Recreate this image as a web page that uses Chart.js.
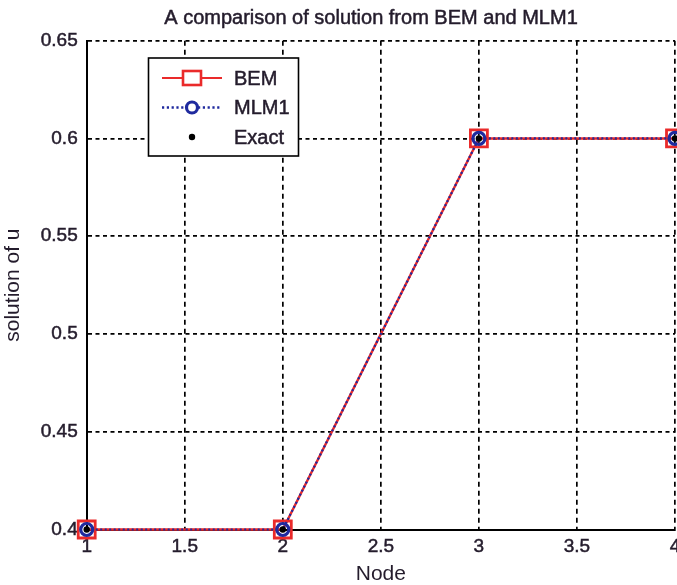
<!DOCTYPE html>
<html>
<head>
<meta charset="utf-8">
<script src="https://cdn.jsdelivr.net/npm/chart.js@4/dist/chart.umd.min.js"></script>
<style>
  html, body { margin: 0; padding: 0; overflow: hidden; background: #fff; }
  canvas { display: block; }
</style>
</head>
<body>
<canvas id="c" width="720" height="585"></canvas>
<script>
// Node positions and the solution values at each node
const nodes = [1, 2, 3, 4];
const bemValues = [0.4, 0.4, 0.6, 0.6];
const mlm1Values = [0.4, 0.4, 0.6, 0.6];
const exactValues = [0.4, 0.4, 0.6, 0.6];

// Axis ticks
const xTicks = [1, 1.5, 2, 2.5, 3, 3.5, 4];
const yTicks = [0.4, 0.45, 0.5, 0.55, 0.6, 0.65];

const seriesNames = ['BEM', 'MLM1', 'Exact'];
const chartTitle = 'A comparison of solution from BEM and MLM1';

const RED = '#ea2a2a';
const BLUE = '#1f2a9e';
const INK = '#241c2c';
const FONT = '"Liberation Sans", Arial, sans-serif';

const toPoints = vals => nodes.map((n, i) => ({ x: n, y: vals[i] }));
const fmt = v => String(Number(v.toFixed(2)));

function heavyText(ctx, text, x, y) {
  ctx.fillText(text, x, y);
  ctx.strokeText(text, x, y);
}

// Title above the plot and the legend box in its upper left corner
const overlay = {
  id: 'overlay',
  afterDatasetsDraw(chart) {
    const ctx = chart.ctx;
    ctx.save();

    // title
    ctx.fillStyle = INK;
    ctx.strokeStyle = INK;
    ctx.lineWidth = 0.5;
    ctx.font = '20px ' + FONT;
    ctx.textAlign = 'center';
    ctx.textBaseline = 'alphabetic';
    heavyText(ctx, chartTitle, 371, 24);

    // legend box
    const bx = 148.5, by = 58, bw = 150, bh = 98;
    ctx.fillStyle = '#fff';
    ctx.fillRect(bx, by, bw, bh);
    ctx.lineWidth = 1.6;
    ctx.strokeStyle = '#000';
    ctx.strokeRect(bx, by, bw, bh);

    const rows = [78, 107.5, 137];
    const x0 = 162, x1 = 222, mx = 192, tx = 234;

    // BEM: solid red line with square marker
    ctx.strokeStyle = RED;
    ctx.lineWidth = 2.2;
    ctx.setLineDash([]);
    ctx.beginPath(); ctx.moveTo(x0, rows[0]); ctx.lineTo(mx - 9, rows[0]);
    ctx.moveTo(mx + 9, rows[0]); ctx.lineTo(x1, rows[0]); ctx.stroke();
    ctx.lineWidth = 2.6;
    ctx.strokeRect(mx - 9, rows[0] - 7, 18, 14);

    // MLM1: dotted blue line with circle marker
    ctx.strokeStyle = BLUE;
    ctx.lineWidth = 2.6;
    ctx.setLineDash([2.2, 2.6]);
    ctx.beginPath(); ctx.moveTo(x0, rows[1]); ctx.lineTo(mx - 6, rows[1]);
    ctx.moveTo(mx + 6, rows[1]); ctx.lineTo(x1, rows[1]); ctx.stroke();
    ctx.setLineDash([]);
    ctx.lineWidth = 3.2;
    ctx.beginPath(); ctx.arc(mx, rows[1], 5.5, 0, Math.PI * 2); ctx.stroke();

    // Exact: black dot
    ctx.fillStyle = '#000';
    ctx.beginPath(); ctx.arc(mx, rows[2], 3.2, 0, Math.PI * 2); ctx.fill();

    ctx.fillStyle = INK;
    ctx.strokeStyle = INK;
    ctx.lineWidth = 0.5;
    ctx.font = '20px ' + FONT;
    ctx.textAlign = 'left';
    ctx.textBaseline = 'middle';
    seriesNames.forEach((name, i) => heavyText(ctx, name, tx, rows[i] + 1));
    ctx.restore();
  }
};

new Chart(document.getElementById('c'), {
  type: 'line',
  data: {
    datasets: [
      {
        label: seriesNames[0],
        data: toPoints(bemValues),
        borderColor: RED,
        borderWidth: 2.4,
        pointStyle: 'rect',
        pointRadius: 12,
        pointBorderWidth: 2.8,
        pointBorderColor: RED,
        pointBackgroundColor: 'rgba(0,0,0,0)',
        tension: 0,
        clip: false,
        order: 3
      },
      {
        label: seriesNames[1],
        data: toPoints(mlm1Values),
        borderColor: BLUE,
        borderWidth: 2.2,
        borderDash: [2, 2.5],
        pointStyle: 'circle',
        pointRadius: 6,
        pointBorderWidth: 3.2,
        pointBorderColor: BLUE,
        pointBackgroundColor: 'rgba(0,0,0,0)',
        tension: 0,
        clip: false,
        order: 2
      },
      {
        label: seriesNames[2],
        data: toPoints(exactValues),
        showLine: false,
        pointStyle: 'circle',
        pointRadius: 3.2,
        pointBorderWidth: 0,
        pointBackgroundColor: '#000',
        clip: false,
        order: 1
      }
    ]
  },
  options: {
    responsive: false,
    animation: false,
    devicePixelRatio: 1,
    layout: { padding: { left: 0, right: 45, top: 40.7, bottom: 0 } },
    plugins: {
      legend: { display: false },
      tooltip: { enabled: false },
      title: { display: false }
    },
    scales: {
      x: {
        type: 'linear',
        min: 1,
        max: 4,
        afterBuildTicks: s => { s.ticks = xTicks.map(v => ({ value: v })); },
        afterFit: s => { s.height = 55.5; },
        ticks: {
          color: INK,
          font: { family: FONT, size: 19 },
          padding: 6,
          maxRotation: 0,
          textStrokeColor: INK,
          textStrokeWidth: 0.5,
          callback: v => fmt(v)
        },
        grid: { color: '#000', lineWidth: 1.7, drawTicks: false },
        border: { display: true, color: '#000', width: 2, dash: [5, 4] },
        title: {
          display: true,
          text: 'Node',
          color: INK,
          font: { family: FONT, size: 21, lineHeight: 1.0 },
          padding: { top: 0, bottom: 0 }
        }
      },
      y: {
        type: 'linear',
        min: 0.4,
        max: 0.65,
        afterBuildTicks: s => { s.ticks = yTicks.map(v => ({ value: v })); },
        afterFit: s => { s.width = 86.7; },
        ticks: {
          color: INK,
          font: { family: FONT, size: 19 },
          padding: 9,
          textStrokeColor: INK,
          textStrokeWidth: 0.5,
          callback: v => fmt(v)
        },
        grid: { color: '#000', lineWidth: 1.7, drawTicks: false },
        border: { display: true, color: '#000', width: 2, dash: [4, 3.5] },
        title: {
          display: true,
          text: 'solution of u',
          color: INK,
          font: { family: FONT, size: 21, lineHeight: 1.2 },
          padding: { top: 1, bottom: 0 }
        }
      }
    }
  },
  plugins: [overlay]
});
</script>
</body>
</html>
